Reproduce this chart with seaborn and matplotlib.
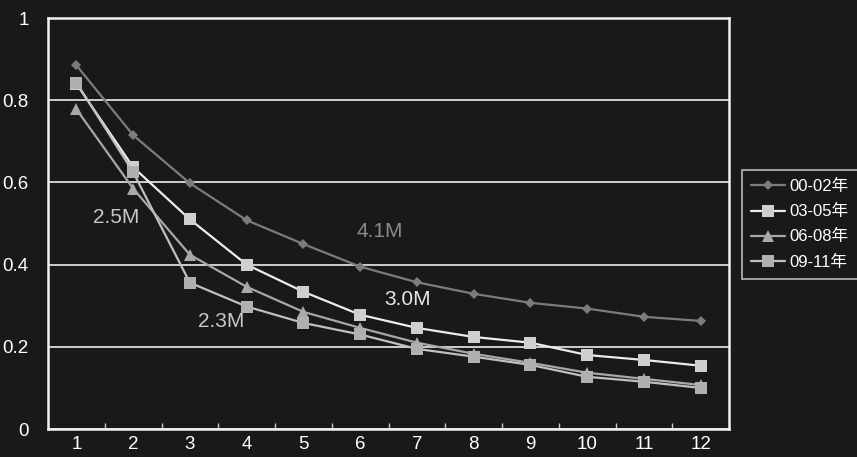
import numpy as np
import pandas as pd
import matplotlib.pyplot as plt
import seaborn as sns

# values
months = list(range(1, 13))
s_00_02 = [0.885, 0.715, 0.598, 0.508, 0.450, 0.395, 0.357, 0.329, 0.307, 0.293, 0.273, 0.263]
s_03_05 = [0.840, 0.637, 0.510, 0.400, 0.334, 0.278, 0.246, 0.224, 0.210, 0.180, 0.168, 0.154]
s_06_08 = [0.778, 0.585, 0.424, 0.346, 0.285, 0.246, 0.210, 0.183, 0.161, 0.137, 0.122, 0.107]
s_09_11 = [0.843, 0.625, 0.356, 0.298, 0.258, 0.230, 0.195, 0.176, 0.156, 0.127, 0.115, 0.100]
labels = ['00-02年', '03-05年', '06-08年', '09-11年']

notes = ['2.5M', '4.1M', '3.0M', '2.3M']
note_x = [1.7, 6.35, 6.84, 3.55]
note_y = [0.515, 0.48, 0.315, 0.261]
note_colors = ['#c8c8c8', '#8a8a8a', '#e6e6e6', '#c8c8c8']

df = pd.DataFrame({
    'month': months * 4,
    'value': s_00_02 + s_03_05 + s_06_08 + s_09_11,
    'period': [lab for lab in labels for _ in months],
})

bg = '#191919'
sns.set_theme(style='dark')
plt.rcParams['font.family'] = ['Noto Sans CJK JP', 'DejaVu Sans']

fig = plt.figure(figsize=(8.57, 4.57), dpi=100, facecolor=bg)
ax = fig.add_axes([48 / 857, 1 - 429 / 457, (729 - 48) / 857, (429 - 18) / 457])
ax.set_facecolor(bg)

palette = {labels[0]: '#7c7c7c', labels[1]: '#ececec', labels[2]: '#a8a8a8', labels[3]: '#c0c0c0'}
markers = {labels[0]: 'D', labels[1]: 's', labels[2]: '^', labels[3]: 's'}
msizes = [5, 9, 8, 9]

sns.lineplot(data=df, x='month', y='value', hue='period', style='period',
             palette=palette, markers=markers, dashes=False, linewidth=1.6,
             markeredgewidth=0, ax=ax, legend=False)

for line, ms, lab in zip(ax.lines, msizes, labels):
    line.set_markersize(ms)
    line.set_label(lab)
# marker face slightly grey for the light series
ax.lines[1].set_markerfacecolor('#cfcfcf')
ax.lines[3].set_markerfacecolor('#b0b0b0')

for txt, x, y, c in zip(notes, note_x, note_y, note_colors):
    ax.text(x, y, txt, color=c, fontsize=15, ha='center', va='center',
            family='Liberation Sans')

ax.set_xlim(0.5, 12.5)
ax.set_ylim(0, 1)
ax.set_xticks(months)
ax.set_xticklabels([str(m) for m in months])
ax.set_xticks(np.arange(1.5, 12.5, 1), minor=True)
ax.set_yticks([0, 0.2, 0.4, 0.6, 0.8, 1.0])
ax.set_yticklabels(['0', '0.2', '0.4', '0.6', '0.8', '1'])
ax.grid(axis='y', color='#dcdcdc', linewidth=1.3)
ax.grid(axis='x', visible=False)
ax.tick_params(axis='both', which='major', colors='white', labelsize=13.5,
               length=0)
ax.tick_params(axis='y', which='major', pad=14)
ax.tick_params(axis='x', which='major', pad=5)
ax.tick_params(axis='x', which='minor', direction='in', length=4,
               color='#cccccc', width=1, bottom=True)
for lab in ax.get_xticklabels() + ax.get_yticklabels():
    lab.set_family('Liberation Sans')
for sp in ax.spines.values():
    sp.set_visible(True)
    sp.set_color('#f0f0f0')
    sp.set_linewidth(1.8)
ax.set_xlabel('')
ax.set_ylabel('')

leg = fig.legend(handles=ax.lines[:4], labels=labels, loc='upper left',
                 bbox_to_anchor=(742 / 857, 1 - 170 / 457), borderaxespad=0,
                 frameon=True, handlelength=2.0, labelspacing=0.6,
                 borderpad=0.55, handletextpad=0.3, fancybox=False,
                 prop={'family': ['Liberation Sans', 'Noto Sans CJK JP'], 'size': 12})
leg.get_frame().set_facecolor(bg)
leg.get_frame().set_edgecolor('#e0e0e0')
leg.get_frame().set_linewidth(1.2)
for t in leg.get_texts():
    t.set_color('white')

fig.savefig('out.png', dpi=100, facecolor=bg)
